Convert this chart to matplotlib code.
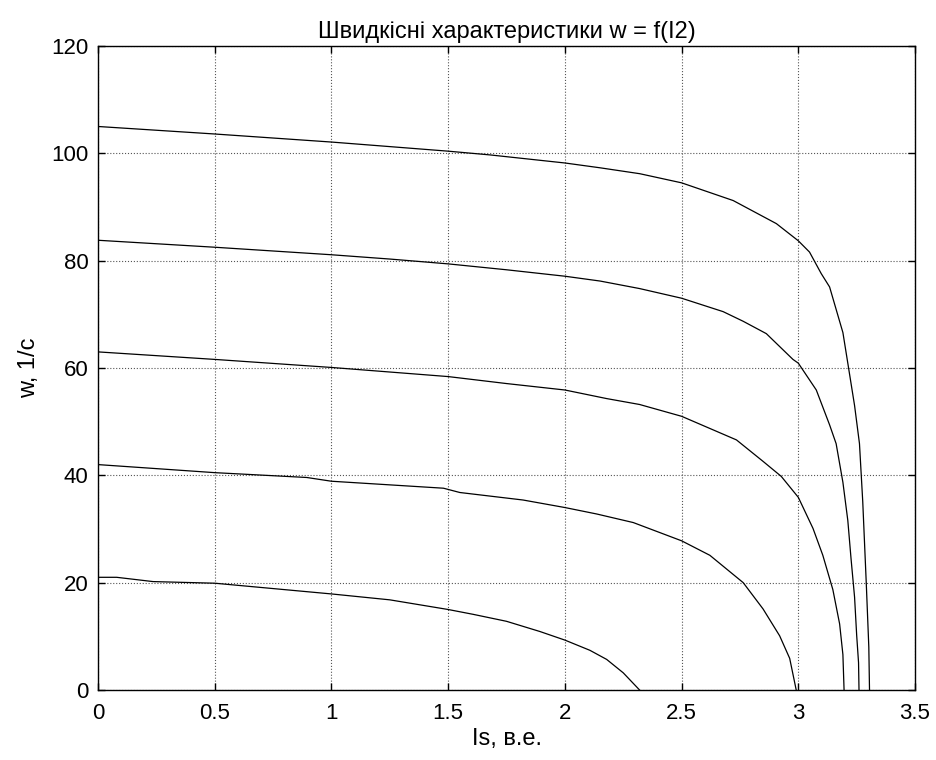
import matplotlib
matplotlib.use("Agg")
import matplotlib.pyplot as plt

plt.rcParams["font.family"] = ["Liberation Sans", "DejaVu Sans"]

# speed characteristics, one curve per level
x1 = [0, 0.5, 1.0, 1.5, 1.68, 2.0, 2.151, 2.321, 2.5, 2.721, 2.906, 3.0, 3.048,
      3.098, 3.134, 3.191, 3.212, 3.241, 3.262, 3.276, 3.291, 3.302, 3.305]
y1 = [105.0, 103.6, 102.1, 100.4, 99.7, 98.2, 97.3, 96.2, 94.5, 91.2, 86.9, 83.7, 81.6,
      77.6, 75.1, 66.6, 60.9, 53.0, 45.9, 35.1, 20.0, 8.0, 0.0]

x2 = [0, 0.5, 1.0, 1.25, 1.5, 1.75, 2.0, 2.151, 2.32, 2.5, 2.678, 2.764, 2.863,
      2.977, 3.0, 3.077, 3.134, 3.162, 3.191, 3.212, 3.226, 3.241, 3.25, 3.258, 3.26]
y2 = [83.8, 82.5, 81.1, 80.3, 79.4, 78.3, 77.1, 76.2, 74.8, 73.0, 70.5, 68.7, 66.4,
      61.6, 60.9, 55.9, 49.4, 45.9, 38.7, 31.6, 24.4, 17.3, 10.2, 5.1, 0.0]

x3 = [0, 0.5, 1.0, 1.5, 1.75, 2.0, 2.179, 2.32, 2.5, 2.735, 2.849, 2.927, 3.0,
      3.063, 3.105, 3.148, 3.177, 3.191, 3.196]
y3 = [63.0, 61.6, 60.1, 58.4, 57.1, 55.9, 54.3, 53.2, 51.0, 46.6, 42.6, 39.8, 35.9,
      30.1, 25.1, 18.7, 12.3, 6.6, 0.0]

x4 = [0, 0.5, 0.894, 1.0, 1.48, 1.55, 1.821, 2.0, 2.136, 2.293, 2.5, 2.621, 2.764,
      2.849, 2.92, 2.963, 2.991]
y4 = [42.0, 40.5, 39.6, 38.9, 37.6, 36.8, 35.4, 34.0, 32.8, 31.2, 27.8, 25.1, 20.0,
      15.1, 10.1, 5.9, 0.0]

x5 = [0, 0.08, 0.236, 0.5, 1.0, 1.25, 1.5, 1.607, 1.75, 1.893, 2.0, 2.107, 2.179,
      2.25, 2.32]
y5 = [21.0, 21.0, 20.2, 19.9, 17.9, 16.8, 15.0, 14.1, 12.8, 10.9, 9.3, 7.4, 5.7,
      3.2, 0.0]

xticks = [0, 0.5, 1, 1.5, 2, 2.5, 3, 3.5]
xtick_labels = ["0", "0.5", "1", "1.5", "2", "2.5", "3", "3.5"]
yticks = [0, 20, 40, 60, 80, 100, 120]

fig = plt.figure(figsize=(9.36, 7.6), dpi=100)
ax = fig.add_axes([0.1047, 0.0921, 0.8729, 0.8474])

for xs, ys in [(x1, y1), (x2, y2), (x3, y3), (x4, y4), (x5, y5)]:
    ax.plot(xs, ys, color="black", linewidth=0.9)

ax.set_xlim(0, 3.5)
ax.set_ylim(0, 120)
ax.set_xticks(xticks)
ax.set_xticklabels(xtick_labels)
ax.set_yticks(yticks)

# matlab look: boxed axes, inward ticks on every side, dotted grid
ax.grid(True, linestyle=":", color="#555555", linewidth=0.8)
ax.tick_params(direction="in", length=5, width=1, top=True, right=True,
               labelsize=16)
ax.tick_params(axis="x", pad=9)
ax.tick_params(axis="y", pad=7)
for s in ax.spines.values():
    s.set_linewidth(1)

ax.set_title("Швидкісні характеристики w = f(I2)", fontsize=17, pad=6)
ax.set_xlabel("Is, в.е.", fontsize=17, labelpad=3)
ax.set_ylabel("w, 1/c", fontsize=17, labelpad=8)

fig.savefig("out.png", dpi=100)
